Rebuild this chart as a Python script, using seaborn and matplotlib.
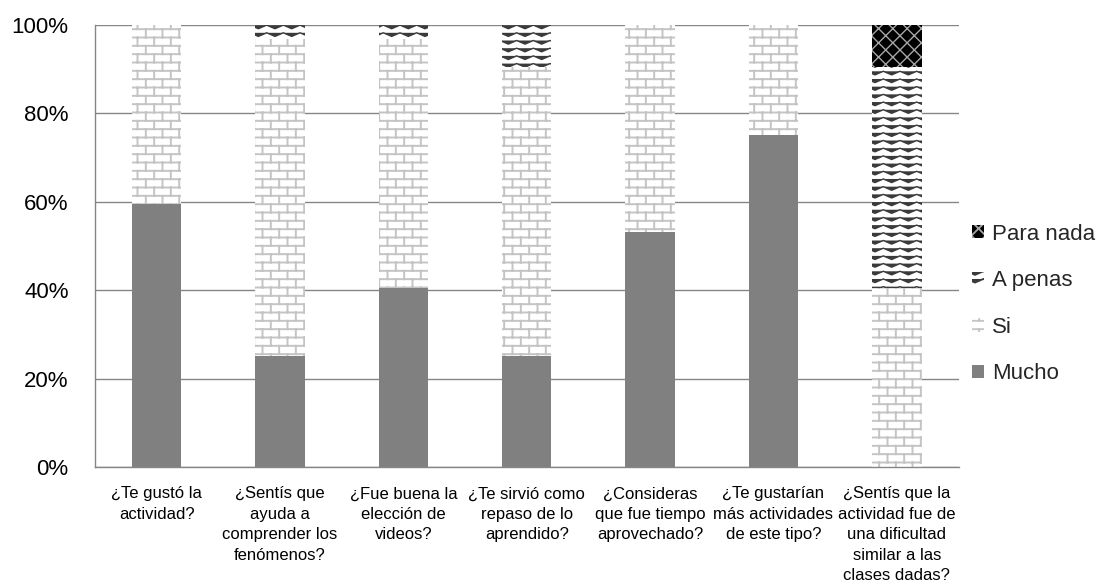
import warnings

import numpy as np
import pandas as pd
import matplotlib
matplotlib.use("Agg")
import matplotlib.pyplot as plt
from matplotlib import hatch as mhatch
from matplotlib import font_manager as fm
from matplotlib.path import Path
from matplotlib.patches import Patch
from matplotlib.ticker import FixedLocator, FuncFormatter
import seaborn as sns

warnings.filterwarnings("ignore", message=".*hatch must consist.*")

# ---- data (percent of respondents) ----
preguntas = [
    "¿Te gustó la\nactividad?",
    "¿Sentís que\nayuda a\ncomprender los\nfenómenos?",
    "¿Fue buena la\nelección de\nvideos?",
    "¿Te sirvió como\nrepaso de lo\naprendido?",
    "¿Consideras\nque fue tiempo\naprovechado?",
    "¿Te gustarían\nmás actividades\nde este tipo?",
    "¿Sentís que la\nactividad fue de\nuna dificultad\nsimilar a las\nclases dadas?",
]
mucho = [59.4, 25.0, 40.6, 25.0, 53.1, 75.0, 0.0]
si = [40.6, 71.9, 56.3, 65.6, 46.9, 25.0, 40.6]
a_penas = [0.0, 3.1, 3.1, 9.4, 0.0, 0.0, 50.0]
para_nada = [0.0, 0.0, 0.0, 0.0, 0.0, 0.0, 9.4]
series_names = ["Mucho", "Si", "A penas", "Para nada"]
y_ticks = [0, 20, 40, 60, 80, 100]


# ---- custom fill patterns: brick wall ('b'), zigzag ('z'), lattice ('L') ----
class BrickHatch(mhatch.HatchPatternBase):
    rows, bricks = 12, 6

    def __init__(self, hatch, density):
        self.on = hatch.count("b") > 0
        r, b = self.rows, self.bricks
        self.num_vertices = (2 * r + 2 * b * (r + 1)) if self.on else 0

    def set_vertices_and_codes(self, vertices, codes):
        r, b = self.rows, self.bricks
        ys = (np.arange(r) + 0.5) / r
        k = 0
        for y in ys:
            vertices[k] = (0.0, y)
            vertices[k + 1] = (1.0, y)
            codes[k], codes[k + 1] = Path.MOVETO, Path.LINETO
            k += 2
        for i in range(r):
            y0 = ys[i]
            y1 = ys[i] + 1.0 / r
            for j in range(b):
                x = (j + 0.25 + 0.5 * (i % 2)) / b
                if i < r - 1:
                    segs = [(y0, y1)]
                else:
                    segs = [(y0, 1.0), (0.0, y1 - 1.0)]
                for a, c in segs:
                    vertices[k] = (x, a)
                    vertices[k + 1] = (x, c)
                    codes[k], codes[k + 1] = Path.MOVETO, Path.LINETO
                    k += 2


class ZigzagHatch(mhatch.HatchPatternBase):
    rows, periods, amp = 13, 6, 0.018

    def __init__(self, hatch, density):
        self.on = hatch.count("z") > 0
        self.num_vertices = self.rows * (2 * self.periods + 1) if self.on else 0

    def set_vertices_and_codes(self, vertices, codes):
        n = 2 * self.periods + 1
        xs = np.linspace(0.0, 1.0, n)
        sign = np.where(np.arange(n) % 2 == 0, 1.0, -1.0)
        for i in range(self.rows):
            y0 = (i + 0.5) / self.rows
            sl = slice(i * n, (i + 1) * n)
            vertices[sl, 0] = xs
            vertices[sl, 1] = y0 + self.amp * sign
            codes[sl] = Path.LINETO
            codes[i * n] = Path.MOVETO


class LatticeHatch(mhatch.HatchPatternBase):
    lines = 7

    def __init__(self, hatch, density):
        self.on = hatch.count("L") > 0
        self.num_vertices = 2 * 2 * 2 * self.lines if self.on else 0

    def set_vertices_and_codes(self, vertices, codes):
        n = self.lines
        cs = (np.arange(-n, n) + 0.5) / n
        k = 0
        for c in cs:
            # rising diagonal x - y = c
            vertices[k] = (max(0.0, c), max(0.0, -c))
            vertices[k + 1] = (min(1.0, 1.0 + c), min(1.0, 1.0 - c))
            # falling diagonal x + y = 1 + c
            vertices[k + 2] = (max(0.0, c), min(1.0, 1.0 + c))
            vertices[k + 3] = (min(1.0, 1.0 + c), max(0.0, c))
            codes[k:k + 4] = [Path.MOVETO, Path.LINETO, Path.MOVETO, Path.LINETO]
            k += 4


mhatch._hatch_types.extend([BrickHatch, ZigzagHatch, LatticeHatch])


def pick_font(candidates):
    for fam in candidates:
        try:
            fm.findfont(fm.FontProperties(family=fam), fallback_to_default=False)
            return fam
        except Exception:
            continue
    return "DejaVu Sans"


sns.set_style("white")
font = pick_font(["Liberation Sans", "Arial", "DejaVu Sans"])
plt.rcParams["font.family"] = [font, "DejaVu Sans"]
plt.rcParams["hatch.linewidth"] = 1.3

styles = {
    "Mucho": dict(face="#808080", hatch=None, hc="#808080", hlw=1.3),
    "Si": dict(face="white", hatch="b", hc="#c4c4c4", hlw=1.4),
    "A penas": dict(face="white", hatch="z", hc="#3a3a3a", hlw=1.0),
    "Para nada": dict(face="black", hatch="L", hc="#a6a6a6", hlw=1.0),
}


def style_patch(p, st):
    p.set_facecolor(st["face"])
    p.set_edgecolor(st["hc"])
    p.set_linewidth(0)
    if st["hatch"]:
        p.set_hatch(st["hatch"])
        if hasattr(p, "set_hatch_linewidth"):
            p.set_hatch_linewidth(st["hlw"])


fig = plt.figure(figsize=(10.99, 5.88), dpi=100)
ax = fig.add_axes([0.0864, 0.2058, 0.7858, 0.7517])

# stacked bars: draw cumulative totals from the top layer down
stack = np.cumsum(np.array([mucho, si, a_penas, para_nada]), axis=0)
for idx in range(len(series_names) - 1, -1, -1):
    name = series_names[idx]
    st = styles[name]
    before = len(ax.patches)
    sns.barplot(x=preguntas, y=stack[idx], color=st["face"], saturation=1,
                width=0.4, errorbar=None, ax=ax)
    for p in ax.patches[before:]:
        style_patch(p, st)
        p.set_zorder(2)

grid_c = "#868686"
ax.set_ylim(0, 100)
ax.set_xlim(-0.5, len(preguntas) - 0.5)
ax.yaxis.set_major_locator(FixedLocator(y_ticks))
ax.yaxis.set_major_formatter(FuncFormatter(lambda v, _: f"{v:.0f}%"))
ax.yaxis.grid(True, color=grid_c, linewidth=1.0)
ax.set_axisbelow(True)

for s in ["top", "right"]:
    ax.spines[s].set_visible(False)
for s in ["left", "bottom"]:
    ax.spines[s].set_color(grid_c)
    ax.spines[s].set_linewidth(1.0)

ax.tick_params(axis="y", which="major", length=7, width=1.0, color=grid_c,
               pad=12, labelsize=16, labelcolor="black")
ax.tick_params(axis="x", which="major", length=0, pad=14, labelcolor="black")
ax.set_xticks(np.arange(len(preguntas)))
ax.set_xticklabels(preguntas, linespacing=1.45, fontsize=12)
ax.set_xticks(np.arange(len(preguntas) + 1) - 0.5, minor=True)
ax.tick_params(axis="x", which="minor", length=5, width=1.0, color=grid_c,
               direction="out")
ax.set_xlabel("")
ax.set_ylabel("")

handles = []
for n in reversed(series_names):
    h = Patch(label=n)
    style_patch(h, styles[n])
    handles.append(h)
fig.legend(handles=handles, loc="center left", bbox_to_anchor=(0.8845, 0.483),
           frameon=False, fontsize=16, handlelength=0.55, handleheight=0.55,
           handletextpad=0.35, labelspacing=1.15, borderpad=0, borderaxespad=0)

fig.savefig("out.png", dpi=100)
